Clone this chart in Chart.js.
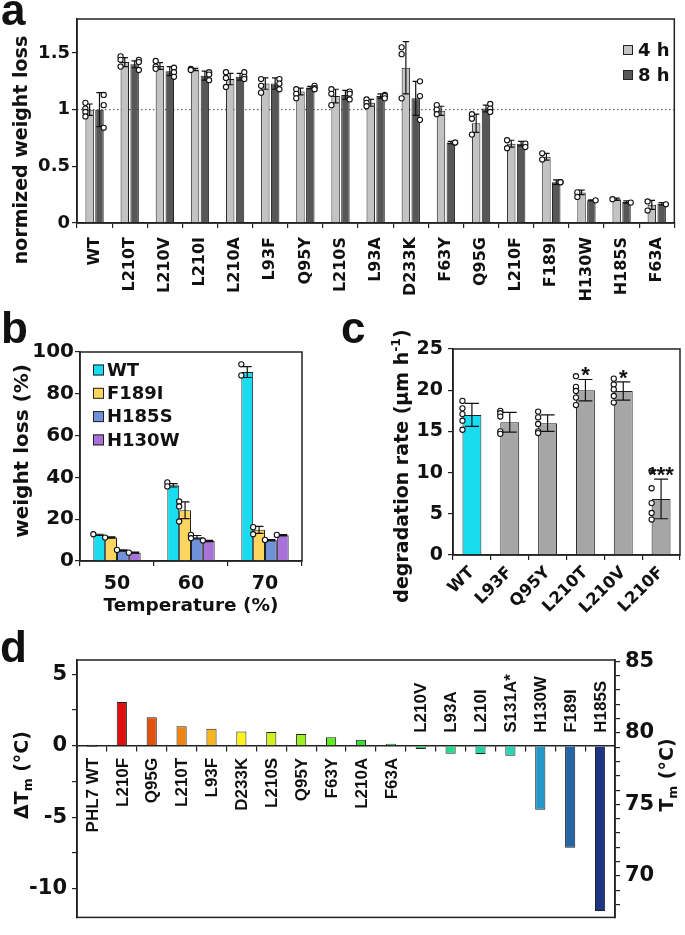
<!DOCTYPE html>
<html><head><meta charset="utf-8">
<script src="https://cdn.jsdelivr.net/npm/chart.js@4.4.0/dist/chart.umd.min.js"></script>
<style>
html,body{margin:0;padding:0;background:#fff;}
body{width:685px;height:935px;position:relative;overflow:hidden;}
canvas{position:absolute;}
#ca{left:0px;top:0px;}
#cb{left:0px;top:298px;}
#cc{left:330px;top:298px;}
#cd{left:0px;top:620px;}
</style></head><body>
<canvas id="ca" width="685" height="306"></canvas>
<canvas id="cb" width="330" height="322"></canvas>
<canvas id="cc" width="355" height="322"></canvas>
<canvas id="cd" width="685" height="315"></canvas>
<script>
// ---------- DATA ----------
// Panel a
const A_CATS = ['WT','L210T','L210V','L210I','L210A','L93F','Q95Y','L210S','L93A','D233K','F63Y','Q95G','L210F','F189I','H130W','H185S','F63A'];
const A_SERIES = ['4 h','8 h'];
const A_4H = [1.00,1.42,1.385,1.355,1.27,1.23,1.16,1.12,1.06,1.37,0.99,0.88,0.70,0.585,0.27,0.21,0.16];
const A_8H = [1.00,1.40,1.34,1.30,1.29,1.23,1.195,1.13,1.12,1.10,0.71,1.01,0.70,0.36,0.20,0.185,0.17];
const A_4H_SD = [0.05,0.04,0.03,0.01,0.05,0.05,0.03,0.06,0.03,0.23,0.04,0.08,0.03,0.03,0.02,0.01,0.04];
const A_8H_SD = [0.15,0.03,0.04,0.04,0.03,0.05,0.01,0.04,0.02,0.15,0.01,0.03,0.02,0.02,0.005,0.01,0.01];
const A_4H_PTS = [[1.06,1.01,0.98,0.94],[1.47,1.44,1.38],[1.43,1.38,1.36],[1.36,1.35],[1.33,1.28,1.20],[1.27,1.21,1.15],[1.18,1.14,1.10],[1.18,1.14,1.04],[1.09,1.06,1.03],[1.55,1.49,1.10],[1.04,1.00,0.96],[0.96,0.92,0.78],[0.73,0.66],[0.615,0.56],[0.27,0.23],[0.21],[0.19,0.11]];
const A_8H_PTS = [[1.13,1.04,0.84],[1.44,1.42,1.35],[1.37,1.33,1.29],[1.33,1.31,1.26],[1.33,1.29,1.27],[1.27,1.23,1.18],[1.21,1.19,1.18],[1.16,1.14,1.09],[1.13,1.12,1.10],[1.25,1.12,0.91],[0.71,0.71],[1.05,1.01,0.98],[0.70,0.67],[0.36,0.36],[0.20],[0.18],[0.165]];
const A_YTICKS = [0,0.5,1,1.5];
// Panel b
const B_CATS = ['50','60','70'];
const B_SERIES = ['WT','F189I','H185S','H130W'];
const B_WT = [12.5,36.2,90.4];
const B_F189I = [11.2,24.3,14.9];
const B_H185S = [5.0,11.4,9.9];
const B_H130W = [4.0,9.6,12.3];
const B_WT_SD = [0.3,0.8,2.6];
const B_F189I_SD = [0.3,4.0,1.7];
const B_H185S_SD = [0.3,0.8,0.3];
const B_H130W_SD = [0.2,0.3,0.3];
const B_WT_PTS = [[12.8],[37.6,35.7],[94.1,88.8]];
const B_F189I_PTS = [[11.2],[28.5,26.1,18.9],[16.2,12.8]];
const B_H185S_PTS = [[5.3],[12.5,10.9],[10.1]];
const B_H130W_PTS = [[4.0],[9.8],[12.5]];
const B_YTICKS = [0,20,40,60,80,100];
// Panel c
const C_CATS = ['WT','L93F','Q95Y','L210T','L210V','L210F'];
const C_RATE = [17.0,16.1,16.0,20.0,19.9,6.8];
const C_SD = [1.4,1.2,1.0,1.3,1.1,2.4];
const C_PTS = [[18.7,17.8,17.1,16.3,15.2],[17.5,17.2,16.8,15.0,14.7],[17.4,16.7,15.9,15.0,14.8],[21.7,20.4,19.9,19.1,18.2],[21.4,20.7,20.1,19.3,18.5],[10.2,8.1,6.3,5.1,4.3]];
const C_SIG = ['','','','*','*','***'];
const C_YTICKS = [0,5,10,15,20,25];
// Panel d
const D_CATS = ['PHL7 WT','L210F','Q95G','L210T','L93F','D233K','L210S','Q95Y','F63Y','L210A','F63A','L210V','L93A','L210I','S131A*','H130W','F189I','H185S'];
const D_DTM = [0,3.07,2.0,1.36,1.2,1.0,0.97,0.82,0.6,0.42,0.11,-0.22,-0.55,-0.58,-0.7,-4.47,-7.13,-11.56];
const D_COLORS = ['#444444','#dc1010','#e2500e','#ef8411','#f5b622','#fff21a','#d2ef1e','#9cf01e','#5fec20','#36e03a','#22d45e','#20d46c','#20dc8c','#22d6a2','#2ad2b8','#2498c8','#2465a5','#1d3585'];
const TM_WT = 79.1;
const D_MIN = -12, D_MAX = 6;
const D_LEFT_TICKS = [5,2.5,0,-2.5,-5,-7.5,-10];
const D_LEFT_LABELED = [5,0,-5,-10];
const D_RIGHT_TICKS = [68,69,70,71,72,73,74,75,76,77,78,79,80,81,82,83,84,85];
const D_RIGHT_LABELED = [70,75,80,85];

// ---------- STYLE ----------
const F_WIDE = "'DejaVu Sans', sans-serif";
const F_ARIAL = "'Liberation Sans', Arial, sans-serif";
const INK = '#111';
const LINE = '#222';

function richText(ctx, segs, x, y, rot, size, family) {
  ctx.save();
  ctx.translate(x, y);
  ctx.rotate(rot);
  ctx.fillStyle = INK;
  ctx.textBaseline = 'alphabetic';
  ctx.textAlign = 'left';
  const parts = segs.map(s => {
    const kind = s[1] || 'n';
    const sz = kind === 'n' ? size : size * 0.65;
    ctx.font = `bold ${sz}px ${family}`;
    return {t: s[0], kind, sz, w: ctx.measureText(s[0]).width};
  });
  const total = parts.reduce((a, p) => a + p.w, 0);
  let cx = -total / 2;
  const base = size * 0.26;
  parts.forEach(p => {
    ctx.font = `bold ${p.sz}px ${family}`;
    const dy = p.kind === 'sub' ? size * 0.22 : p.kind === 'sup' ? -size * 0.42 : 0;
    ctx.fillText(p.t, cx, base + dy);
    cx += p.w;
  });
  ctx.restore();
}

const extras = {
  id: 'extras',
  beforeDatasetsDraw(chart, args, o) {
    if (o.refLine == null) return;
    const ctx = chart.ctx, a = chart.chartArea;
    const y = chart.scales.y.getPixelForValue(o.refLine);
    ctx.save();
    ctx.strokeStyle = '#444'; ctx.lineWidth = 1; ctx.setLineDash([1.5, 2.5]);
    ctx.beginPath(); ctx.moveTo(a.left, y); ctx.lineTo(a.right, y); ctx.stroke();
    ctx.restore();
  },
  afterDatasetsDraw(chart, args, o) {
    const ctx = chart.ctx;
    ctx.save();
    chart.data.datasets.forEach((ds, i) => {
      const meta = chart.getDatasetMeta(i);
      const ys = chart.scales[meta.yAxisID];
      meta.data.forEach((bar, j) => {
        const v = ds.data[j];
        const w = bar.width;
        if (ds.errors) {
          const sd = ds.errors[j];
          const yt = ys.getPixelForValue(v + sd), yb = ys.getPixelForValue(v - sd);
          const cw = Math.min(w * 0.75, 14) / 2;
          ctx.strokeStyle = INK; ctx.lineWidth = 1.2;
          ctx.beginPath();
          ctx.moveTo(bar.x, yt); ctx.lineTo(bar.x, yb);
          ctx.moveTo(bar.x - cw, yt); ctx.lineTo(bar.x + cw, yt);
          ctx.moveTo(bar.x - cw, yb); ctx.lineTo(bar.x + cw, yb);
          ctx.stroke();
        }
      });
    });
    chart.data.datasets.forEach((ds, i) => {
      const meta = chart.getDatasetMeta(i);
      const ys = chart.scales[meta.yAxisID];
      meta.data.forEach((bar, j) => {
        if (!ds.points) return;
        const px = bar.x + (ds.dotSide || -1) * bar.width / 2;
        ds.points[j].forEach(p => {
          ctx.beginPath();
          ctx.arc(px, ys.getPixelForValue(p), 2.6, 0, Math.PI * 2);
          ctx.fillStyle = '#fff'; ctx.fill();
          ctx.strokeStyle = INK; ctx.lineWidth = 1.1; ctx.stroke();
        });
      });
    });
    if (o.stars) {
      const ds = chart.data.datasets[0];
      const meta = chart.getDatasetMeta(0);
      const ys = chart.scales[meta.yAxisID];
      ctx.font = `bold 22px ${F_ARIAL}`;
      ctx.fillStyle = INK; ctx.textAlign = 'center'; ctx.textBaseline = 'alphabetic';
      meta.data.forEach((bar, j) => {
        const s = o.stars[j];
        if (!s) return;
        const yt = ys.getPixelForValue(ds.data[j] + ds.errors[j]);
        ctx.fillText(s, bar.x, yt + 3);
      });
    }
    ctx.restore();
  },
  afterDraw(chart, args, o) {
    const ctx = chart.ctx, a = chart.chartArea;
    ctx.save();
    if (o.frame) {
      ctx.strokeStyle = LINE; ctx.lineWidth = 1.5;
      ctx.strokeRect(a.left, a.top, a.right - a.left, a.bottom - a.top);
    }
    if (o.letter) {
      ctx.font = `bold 44px ${F_ARIAL}`;
      ctx.fillStyle = INK; ctx.textAlign = 'left'; ctx.textBaseline = 'alphabetic';
      ctx.fillText(o.letter.text, o.letter.x, o.letter.y);
    }
    (o.titles || []).forEach(t => richText(ctx, t.segs, t.x, t.y, t.rot, t.size, t.family || F_WIDE));
    if (o.legend) {
      const L = o.legend;
      chart.data.datasets.forEach((ds, i) => {
        const cy = L.y + i * L.dy;
        ctx.fillStyle = ds.backgroundColor;
        ctx.fillRect(L.x, cy - L.box / 2, L.box, L.box);
        ctx.strokeStyle = LINE; ctx.lineWidth = 1;
        ctx.strokeRect(L.x + 0.5, cy - L.box / 2 + 0.5, L.box - 1, L.box - 1);
        ctx.font = `bold ${L.size}px ${F_WIDE}`;
        ctx.fillStyle = INK; ctx.textAlign = 'left'; ctx.textBaseline = 'middle';
        ctx.fillText(ds.label, L.x + L.box + L.gap, cy + 1);
      });
    }
    if (o.catLabels) {
      const C = o.catLabels;
      const xs = chart.scales.x, ys = chart.scales.y;
      const y0 = ys.getPixelForValue(0);
      const ds = chart.data.datasets[0];
      ctx.font = `bold ${C.size}px ${F_ARIAL}`;
      ctx.fillStyle = INK; ctx.textBaseline = 'middle';
      chart.data.labels.forEach((lab, i) => {
        const x = xs.getPixelForValue(i);
        ctx.save();
        if (ds.data[i] >= 0) {
          ctx.translate(x + 1, y0 + C.below); ctx.rotate(-Math.PI / 2); ctx.textAlign = 'right';
        } else {
          ctx.translate(x + 1, y0 - C.above); ctx.rotate(-Math.PI / 2); ctx.textAlign = 'left';
        }
        ctx.fillText(lab, 0, 0);
        ctx.restore();
      });
    }
    ctx.restore();
  }
};
Chart.register(extras);
Chart.defaults.font.family = F_WIDE;
Chart.defaults.font.weight = 'bold';
Chart.defaults.color = INK;
Chart.defaults.animation = false;
Chart.defaults.plugins.legend.display = false;
Chart.defaults.plugins.tooltip.enabled = false;

const gridOpts = {drawOnChartArea: false, tickLength: 5, color: LINE, lineWidth: 1.2};
const borderOpts = {color: LINE, width: 1.5};
const setTicks = arr => s => { s.ticks = arr.map(v => ({value: v})); };

// ---------- PANEL A ----------
new Chart(document.getElementById('ca'), {
  type: 'bar',
  data: {labels: A_CATS, datasets: [
    {label: A_SERIES[0], data: A_4H, backgroundColor: '#c3c3c3', borderColor: LINE, borderWidth: 1, errors: A_4H_SD, points: A_4H_PTS, dotSide: -1, categoryPercentage: 0.56, barPercentage: 0.86},
    {label: A_SERIES[1], data: A_8H, backgroundColor: '#575757', borderColor: LINE, borderWidth: 1, errors: A_8H_SD, points: A_8H_PTS, dotSide: 1, categoryPercentage: 0.56, barPercentage: 0.86}
  ]},
  options: {
    responsive: false,
    layout: {padding: {left: 0, top: 19, right: 2, bottom: 0}},
    scales: {
      x: {offset: true, grid: Object.assign({offset: true}, gridOpts), border: borderOpts,
          ticks: {autoSkip: false, minRotation: 90, maxRotation: 90, padding: 9, font: {size: 16}},
          afterFit: s => { s.height = 83; }},
      y: {min: 0, max: 1.8, grid: gridOpts, border: borderOpts,
          afterBuildTicks: setTicks(A_YTICKS),
          ticks: {autoSkip: false, padding: 2, font: {size: 18}, callback: v => String(v)},
          afterFit: s => { s.width = 77; }}
    },
    plugins: {extras: {
      letter: {text: 'a', x: 1, y: 25}, refLine: 1, frame: true,
      titles: [{segs: [['normized weight loss']], x: 22, y: 150, rot: -Math.PI / 2, size: 19}],
      legend: {x: 623, y: 50, dy: 25, box: 10, gap: 5, size: 18}
    }}
  }
});

// ---------- PANEL B ----------
const B_COLORS = ['#19dcf0', '#fcd55f', '#6e91d9', '#a872d9'];
const B_DATA = [B_WT, B_F189I, B_H185S, B_H130W];
const B_SDS = [B_WT_SD, B_F189I_SD, B_H185S_SD, B_H130W_SD];
const B_PTS = [B_WT_PTS, B_F189I_PTS, B_H185S_PTS, B_H130W_PTS];
new Chart(document.getElementById('cb'), {
  type: 'bar',
  data: {labels: B_CATS, datasets: B_SERIES.map((s, i) => ({
    label: s, data: B_DATA[i], backgroundColor: B_COLORS[i], borderColor: LINE, borderWidth: 1,
    errors: B_SDS[i], points: B_PTS[i], dotSide: -1, categoryPercentage: 0.64, barPercentage: 1.0
  }))},
  options: {
    responsive: false,
    layout: {padding: {left: 0, top: 54, right: 28, bottom: 0}},
    scales: {
      x: {offset: true, grid: Object.assign({offset: true}, gridOpts), border: borderOpts,
          ticks: {padding: 7, font: {size: 19}},
          afterFit: s => { s.height = 59; }},
      y: {min: 0, max: 100, grid: gridOpts, border: borderOpts,
          afterBuildTicks: setTicks(B_YTICKS),
          ticks: {autoSkip: false, padding: 1, font: {size: 20}, callback: v => String(v)},
          afterFit: s => { s.width = 80; }}
    },
    plugins: {extras: {
      letter: {text: 'b', x: 1, y: 45}, frame: true,
      titles: [
        {segs: [['weight loss (%)']], x: 23, y: 153, rot: -Math.PI / 2, size: 20},
        {segs: [['Temperature (%)']], x: 191, y: 308, rot: 0, size: 18.5}
      ],
      legend: {x: 93, y: 72, dy: 23.3, box: 11, gap: 3, size: 18}
    }}
  }
});

// ---------- PANEL C ----------
new Chart(document.getElementById('cc'), {
  type: 'bar',
  data: {labels: C_CATS, datasets: [{
    label: 'rate', data: C_RATE,
    backgroundColor: C_CATS.map(c => c === 'WT' ? '#19dcf0' : '#a6a6a6'),
    borderColor: LINE, borderWidth: 1, errors: C_SD, points: C_PTS, dotSide: -1,
    categoryPercentage: 1.0, barPercentage: 0.5
  }]},
  options: {
    responsive: false,
    layout: {padding: {left: 0, top: 51, right: 5, bottom: 0}},
    scales: {
      x: {offset: true, grid: Object.assign({offset: true}, gridOpts), border: borderOpts,
          ticks: {autoSkip: false, minRotation: 45, maxRotation: 45, padding: 3, font: {size: 16.5}},
          afterFit: s => { s.height = 65; }},
      y: {min: 0, max: 25, grid: gridOpts, border: borderOpts,
          afterBuildTicks: setTicks(C_YTICKS),
          ticks: {autoSkip: false, padding: 5, font: {size: 19}, callback: v => String(v)},
          afterFit: s => { s.width = 123; }}
    },
    plugins: {extras: {
      letter: {text: 'c', x: 11, y: 45}, frame: true, stars: C_SIG,
      titles: [{segs: [['degradation rate (µm h'], ['-1', 'sup'], [')']], x: 73, y: 168, rot: -Math.PI / 2, size: 19}]
    }}
  }
});

// ---------- PANEL D ----------
new Chart(document.getElementById('cd'), {
  type: 'bar',
  data: {labels: D_CATS, datasets: [{
    label: 'dTm', data: D_DTM, backgroundColor: D_COLORS, borderColor: LINE, borderWidth: 1,
    categoryPercentage: 1.0, barPercentage: 0.34, minBarLength: 2, yAxisID: 'y'
  }]},
  options: {
    responsive: false,
    layout: {padding: {left: 0, top: 40, right: 0, bottom: 2}},
    scales: {
      x: {type: 'category', position: {y: 0}, offset: true, grid: Object.assign({offset: true}, gridOpts),
          border: borderOpts, ticks: {display: false}},
      y: {position: 'left', min: D_MIN, max: D_MAX, grid: gridOpts, border: borderOpts,
          afterBuildTicks: setTicks(D_LEFT_TICKS),
          ticks: {autoSkip: false, padding: 5, font: {size: 21}, callback: v => D_LEFT_LABELED.includes(v) ? String(v) : ''},
          afterFit: s => { s.width = 77; }},
      y2: {position: 'right', min: D_MIN + TM_WT, max: D_MAX + TM_WT, grid: gridOpts, border: borderOpts,
          afterBuildTicks: setTicks(D_RIGHT_TICKS),
          ticks: {autoSkip: false, padding: 5, font: {size: 21}, callback: v => D_RIGHT_LABELED.includes(v) ? String(v) : ''},
          afterFit: s => { s.width = 70; }}
    },
    plugins: {extras: {
      letter: {text: 'd', x: 0, y: 42}, frame: true,
      catLabels: {size: 17, below: 12, above: 13},
      titles: [
        {segs: [['ΔT'], ['m', 'sub'], [' (°C)']], x: 23, y: 155, rot: -Math.PI / 2, size: 19},
        {segs: [['T'], ['m', 'sub'], [' (°C)']], x: 668, y: 155, rot: -Math.PI / 2, size: 19}
      ]
    }}
  }
});
</script>
</body></html>
